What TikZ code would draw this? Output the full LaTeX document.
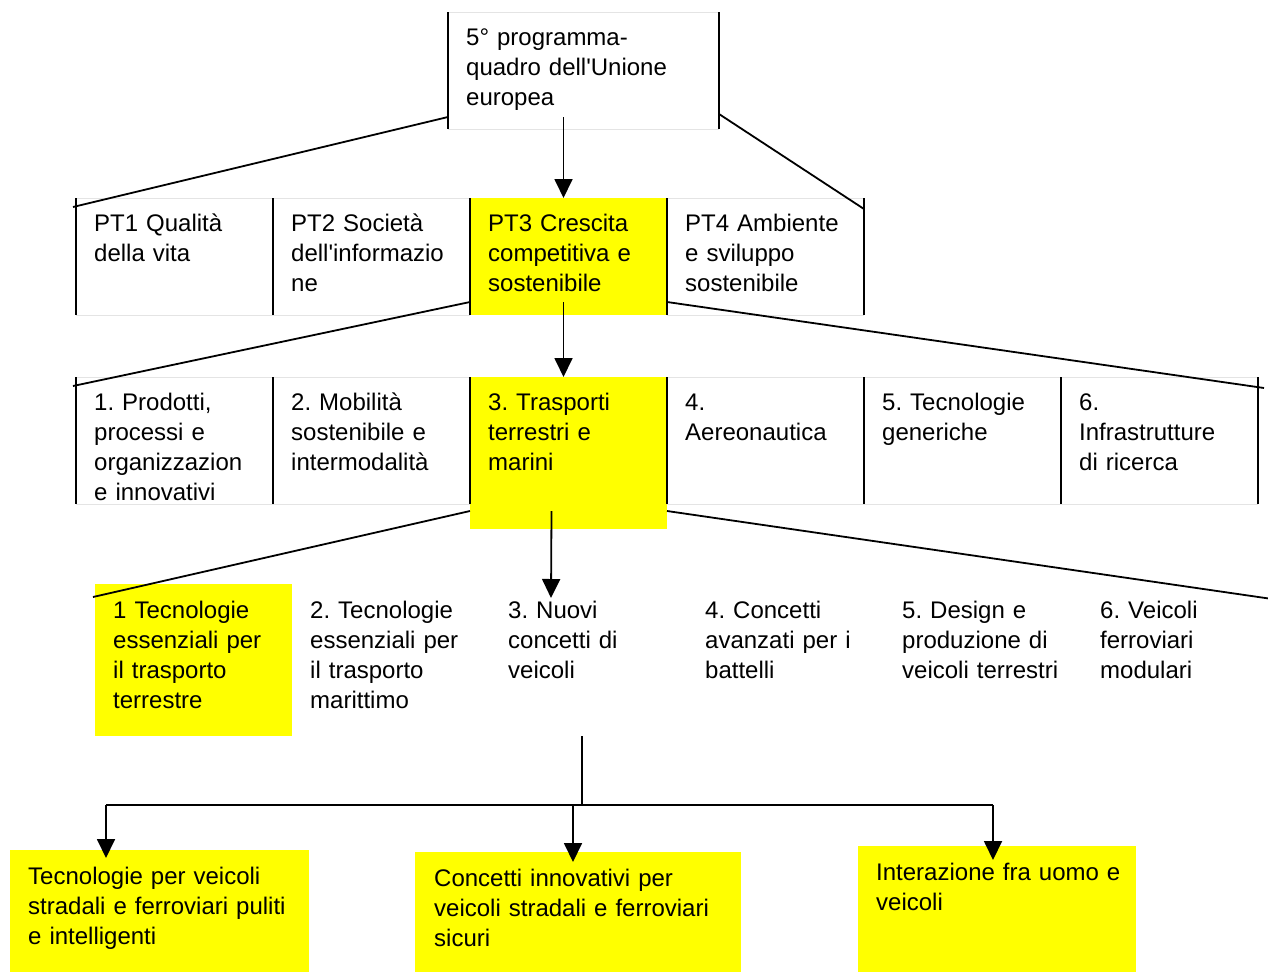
\documentclass[tikz,border=0pt]{standalone}
\usepackage{fontspec}
\setmainfont{Liberation Sans}
\usetikzlibrary{arrows.meta,calc}
\definecolor{chartFill}{HTML}{FFFF00}
\definecolor{chartRule}{HTML}{E4E4E4}
\definecolor{chartLine}{HTML}{000000}
\frenchspacing

\begin{document}
\begin{tikzpicture}[
    x=1pt,y=-1pt,
    every node/.style={font=\fontsize{24}{30}\selectfont},
    cell/.style={anchor=north west,inner sep=0pt,outer sep=0pt,minimum width=197pt,minimum height=#1},
    cell/.default=117pt,
    hilite/.style={fill=chartFill},
    txt/.style={anchor=base west,inner sep=0pt,text width=320pt,align=left},
    side/.style={draw=chartLine,line width=2.4pt},
    rule/.style={draw=chartRule,line width=1pt},
    link/.style={draw=chartLine,line width=1.8pt},
    flow/.style={link,-{Triangle[length=19pt,width=18pt]}}
]
\useasboundingbox (0,0) rectangle (1268,972);

% boxes
\node[cell,minimum width=271pt] (prog) at (448,12) {};
\node[cell] (pt1) at (76,198) {};
\node[cell] (pt2) at (273,198) {};
\node[cell,hilite] (pt3) at (470,198) {};
\node[cell] (pt4) at (667,198) {};
\node[cell=127pt] (tr1) at (76,377) {};
\node[cell=127pt] (tr2) at (273,377) {};
\node[cell=152pt,hilite] (tr3) at (470,377) {};
\node[cell=127pt] (tr4) at (667,377) {};
\node[cell=127pt] (tr5) at (864,377) {};
\node[cell=127pt] (tr6) at (1061,377) {};
\node[cell=152pt,hilite] (nv1) at (95,584) {};
\node[cell=152pt] (nv2) at (292,584) {};
\node[cell=152pt] (nv3) at (490,584) {};
\node[cell=152pt] (nv4) at (687,584) {};
\node[cell=152pt] (nv5) at (884,584) {};
\node[cell=152pt] (nv6) at (1082,584) {};
\node[cell=122pt,minimum width=299pt,hilite] (tek) at (10,850) {};
\node[cell=120pt,minimum width=326pt,hilite] (con) at (415,852) {};
\node[cell=126pt,minimum width=278pt,hilite] (int) at (858,846) {};

% frames
\draw[rule] (prog.north west) -- (prog.north east) (prog.south west) -- (prog.south east);
\draw[side] (prog.north west) -- (prog.south west) (prog.north east) -- (prog.south east);
\foreach \n in {pt1,pt2,pt4,tr1,tr2,tr4,tr5,tr6}
  \draw[rule] (\n.north west) -- (\n.north east) (\n.south west) -- (\n.south east);
\foreach \n in {pt1,pt2,pt3,pt4}
  \draw[side] (\n.north west) -- (\n.south west) (\n.north east) -- (\n.south east);
\foreach \n in {tr1,tr2,tr3,tr4,tr5,tr6}
  \draw[side] (\n.north west) -- ++(0,127) (\n.north east) -- ++(0,127);

% texts
\node[txt] (progt) at ($(prog.north west)+(18,33)$) {5° programma-\\quadro dell\textquotesingle Unione\\europea};
\node[txt] (pt1t) at ($(pt1.north west)+(18,33)$) {PT1 Qualità\\della vita};
\node[txt] (pt2t) at ($(pt2.north west)+(18,33)$) {PT2 Società\\dell\textquotesingle informazio\\ne};
\node[txt] (pt3t) at ($(pt3.north west)+(18,33)$) {PT3 Crescita\\competitiva e\\sostenibile};
\node[txt] (pt4t) at ($(pt4.north west)+(18,33)$) {PT4 Ambiente\\e sviluppo\\sostenibile};
\node[txt] (tr1t) at ($(tr1.north west)+(18,33)$) {1. Prodotti,\\processi e\\organizzazion\\e innovativi};
\node[txt] (tr2t) at ($(tr2.north west)+(18,33)$) {2. Mobilità\\sostenibile e\\intermodalità};
\node[txt] (tr3t) at ($(tr3.north west)+(18,33)$) {3. Trasporti\\terrestri e\\marini};
\node[txt] (tr4t) at ($(tr4.north west)+(18,33)$) {4.\\Aereonautica};
\node[txt] (tr5t) at ($(tr5.north west)+(18,33)$) {5. Tecnologie\\generiche};
\node[txt] (tr6t) at ($(tr6.north west)+(18,33)$) {6.\\Infrastrutture\\di ricerca};
\node[txt] (nv1t) at ($(nv1.north west)+(18,34)$) {1 Tecnologie\\essenziali per\\il trasporto\\terrestre};
\node[txt] (nv2t) at ($(nv2.north west)+(18,34)$) {2. Tecnologie\\essenziali per\\il trasporto\\marittimo};
\node[txt] (nv3t) at ($(nv3.north west)+(18,34)$) {3. Nuovi\\concetti di\\veicoli};
\node[txt] (nv4t) at ($(nv4.north west)+(18,34)$) {4. Concetti\\avanzati per i\\battelli};
\node[txt] (nv5t) at ($(nv5.north west)+(18,34)$) {5. Design e\\produzione di\\veicoli terrestri};
\node[txt] (nv6t) at ($(nv6.north west)+(18,34)$) {6. Veicoli\\ferroviari\\modulari};
\node[txt] (tekt) at ($(tek.north west)+(18,34)$) {Tecnologie per veicoli\\stradali e ferroviari puliti\\e intelligenti};
\node[txt] (cont) at ($(con.north west)+(19,34)$) {Concetti innovativi per\\veicoli stradali e ferroviari\\sicuri};
\node[txt] (intt) at ($(int.north west)+(18,34)$) {Interazione fra uomo e\\veicoli};

% connectors
\draw[link] ($(prog.south west)+(0,-12)$) -- ($(pt1.north west)+(-3,9)$);
\draw[link] ($(prog.south east)+(0,-15)$) -- ($(pt4.north east)+(0,11)$);
\draw[flow] ($(pt3.north)+(-5,-81)$) -- ($(pt3.north)+(-5,0)$);
\draw[link] ($(pt3.south west)+(0,-13)$) -- ($(tr1.north west)+(-3,9)$);
\draw[link] ($(pt3.south east)+(0,-13)$) -- ($(tr6.north east)+(6,11)$);
\draw[flow] ($(pt3.south)+(-5,-13)$) -- ($(tr3.north)+(-5,0)$);
\draw[link] ($(tr3.south west)+(0,-18)$) -- ($(nv1.north west)+(-2,13)$);
\draw[link] ($(tr3.south east)+(0,-18)$) -- ($(nv6.north east)+(0,16)$);
\draw[flow] ($(tr3.south)+(-17,-18)$) -- ($(nv3.north)+(-37.5,14)$);
\draw[link] ($(nv3.south)+(-6.5,0)$) -- ++(0,69) coordinate (bus);
\coordinate (busL) at (106,805);
\coordinate (busR) at (993,805);
\draw[link] (busL) -- (busR);
\draw[flow] (busL) -- ($(tek.north -| busL)+(0,8)$);
\draw[flow] ($(con.north)+(-5,-46)$) -- ($(con.north)+(-5,10)$);
\draw[flow] (busR) -- ($(int.north -| busR)+(0,14)$);
\end{tikzpicture}
\end{document}
